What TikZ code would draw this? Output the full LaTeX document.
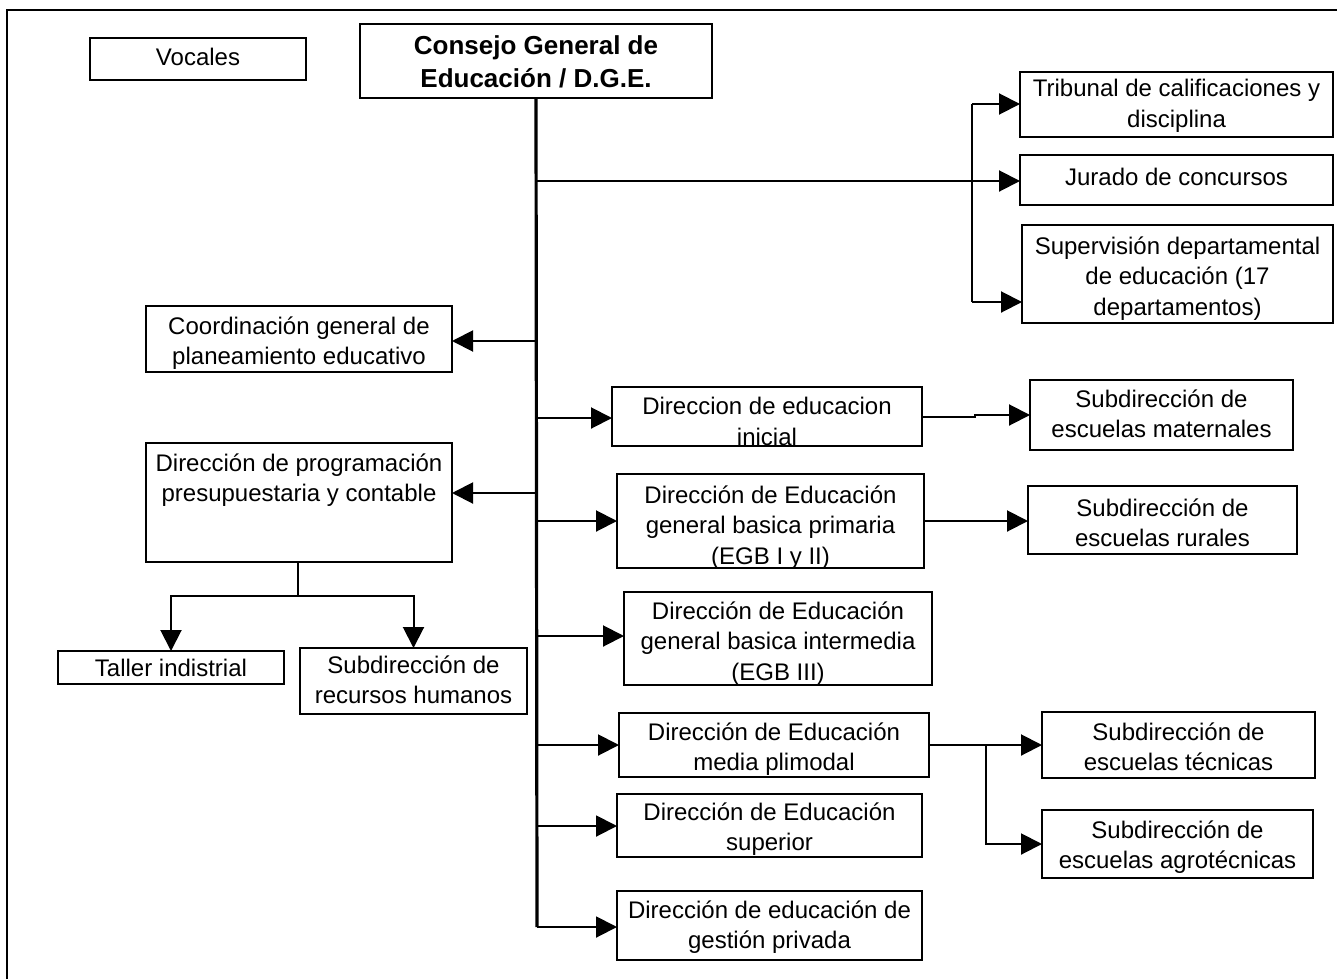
\documentclass[tikz,border=0pt]{standalone}
\usepackage{fontspec}
\setmainfont{Liberation Sans}
\usetikzlibrary{arrows.meta}
\tikzset{
  box/.style={draw, line width=1pt, inner sep=0pt, outer sep=0pt, fill=white},
  txt/.style={anchor=north, inner sep=0pt, outer sep=0pt, align=center, font=\fontsize{12}{15.3}\selectfont},
  conn/.style={line width=1pt, -{Triangle[length=10.5pt,width=10.5pt]}},
  trunk/.style={line width=1.6pt},
  plain/.style={line width=1pt},
}
\newcommand{\orgbox}[7]{%
  \node[box, minimum width={(#4-#2)*0.5pt}, minimum height={(#5-#3)*0.5pt}] (#1) at ({(#2+#4)/2},{(#3+#5)/2}) {};
  \node[txt] (#1-t) at ({(#2+#4)/2},{#6-8.5}) {#7};
}
\begin{document}
\begin{tikzpicture}[x=0.5pt,y=-0.5pt]
\useasboundingbox (0,0) rectangle (1337,979);
\fill[white] (0,0) rectangle (1337,979);
% frame
\draw[line width=1pt] (7,979) -- (7,10) -- (1337,10);

% boxes
\orgbox{voc}{90}{38}{306}{80}{57}{Vocales}
\node[box, minimum width=176pt, minimum height=37pt] (cons) at (536,61) {};
\node[txt, font=\bfseries\fontsize{13}{16.5}\selectfont] (cons-t) at (536,35.5) {Consejo General de\\Educación / D.G.E.};
\orgbox{trib}{1020}{72}{1333}{137}{88}{Tribunal de calificaciones y\\disciplina}
\orgbox{jur}{1020}{155}{1333}{205}{177}{Jurado de concursos}
\orgbox{sup}{1022}{225}{1333}{323}{245}{Supervisión departamental\\de educación (17\\departamentos)}
\orgbox{coord}{146}{306}{452}{372}{325}{Coordinación general de\\planeamiento educativo}
\orgbox{prog}{146}{443}{452}{562}{462}{Dirección de programación\\presupuestaria y contable}
\orgbox{tall}{58}{651}{284}{684}{668}{Taller indistrial}
\orgbox{rrhh}{300}{648}{527}{714}{664}{Subdirección de\\recursos humanos}
\orgbox{ini}{612}{387}{922}{446}{406}{Direccion de educacion\\inicial}
\orgbox{mat}{1030}{380}{1293}{450}{398}{Subdirección de\\escuelas maternales}
\orgbox{prim}{617}{474}{924}{568}{494}{Dirección de Educación\\general basica primaria\\(EGB I y II)}
\orgbox{rur}{1028}{486}{1297}{554}{507}{Subdirección de\\escuelas rurales}
\orgbox{inter}{624}{592}{932}{685}{610}{Dirección de Educación\\general basica intermedia\\(EGB III)}
\orgbox{plim}{619}{713}{929}{777}{731}{Dirección de Educación\\media plimodal}
\orgbox{tec}{1042}{712}{1315}{778}{731}{Subdirección de\\escuelas técnicas}
\orgbox{supe}{617}{794}{922}{857}{811}{Dirección de Educación\\superior}
\orgbox{agro}{1042}{810}{1313}{878}{829}{Subdirección de\\escuelas agrotécnicas}
\orgbox{priv}{617}{891}{922}{960}{909}{Dirección de educación de\\gestión privada}

% trunk
\coordinate (tend) at (537,927);
\draw[trunk] (cons.south) -- (tend);

% right upper branch
\coordinate (jb) at (537,181);
\draw[conn] (jb) -- (jur.west |- jb);
\draw[plain] (972,104) -- (972,302);
\draw[conn] (972,104) -- (trib.west |- 0,104);
\draw[conn] (972,302) -- (sup.west |- 0,302);

% left branches
\draw[conn] (537,341) -- (coord.east |- 0,341);
\draw[conn] (537,493) -- (prog.east |- 0,493);
\coordinate (pj) at (298,596);
\draw[plain] (prog.south -| pj) -- (pj);
\draw[conn] (pj) -| (tall.north);
\draw[conn] (pj) -| (rrhh.north);

% right branches from trunk
\draw[conn] (537,418) -- (ini.west |- 0,418);
\draw[conn] (537,521) -- (prim.west |- 0,521);
\draw[conn] (537,636) -- (inter.west |- 0,636);
\draw[conn] (537,745) -- (plim.west |- 0,745);
\draw[conn] (537,826) -- (supe.west |- 0,826);
\draw[conn] (tend) -- (priv.west |- tend);

% second level
\draw[conn] (ini.east |- 0,417) -- (975,417) -- (975,415) -- (mat.west |- 0,415);
\draw[conn] (prim.east |- 0,521) -- (rur.west |- 0,521);
\coordinate (pb) at (986,745);
\draw[plain] (plim.east |- pb) -- (pb);
\draw[conn] (pb) -- (tec.west |- pb);
\draw[conn] (pb) |- (agro.west);
\end{tikzpicture}
\end{document}
